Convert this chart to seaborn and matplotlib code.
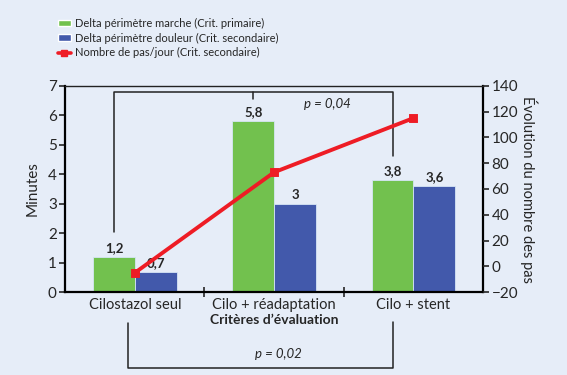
import numpy as np
import pandas as pd
import matplotlib
matplotlib.use('Agg')
import matplotlib.pyplot as plt
import seaborn as sns
from matplotlib.patches import Patch
from matplotlib.lines import Line2D

# data
categories = ['Cilostazol seul', 'Cilo + réadaptation', 'Cilo + stent']
marche = [1.2, 5.8, 3.8]
douleur = [0.7, 3.0, 3.6]
pas_jour = [-5, 73, 115]
marche_lbl = ['1,2', '5,8', '3,8']
douleur_lbl = ['0,7', '3', '3,6']

series_names = ['Delta périmètre marche (Crit. primaire)',
                'Delta périmètre douleur (Crit. secondaire)',
                'Nombre de pas/jour (Crit. secondaire)']

bg = '#e6edf8'
green = '#72c14e'
blue = '#4259ab'
red = '#ee1c25'

sns.set_style('white')
plt.rcParams['font.family'] = ['Lato', 'DejaVu Sans']

df = pd.DataFrame({
    'cat': categories * 2,
    'val': marche + douleur,
    'serie': [series_names[0]] * 3 + [series_names[1]] * 3,
})
df_pas = pd.DataFrame({'cat': categories, 'pas': pas_jour})

fig = plt.figure(figsize=(5.67, 3.75), dpi=100, facecolor=bg)
ax = fig.add_axes([0.115, 0.221, 0.737, 0.550])
ax.set_facecolor(bg)

sns.barplot(data=df, x='cat', y='val', hue='serie', order=categories,
            palette=[green, blue], width=0.6, saturation=1,
            edgecolor='#d6e6f5', linewidth=0.6, ax=ax, legend=False)

# bar value labels
for cont, labels in zip(ax.containers, [marche_lbl, douleur_lbl]):
    ax.bar_label(cont, labels=labels, fontweight='bold', fontsize=9.5, padding=2)

ax.set_ylim(0, 7)
ax.set_yticks(range(0, 8))
ax.set_xlim(-0.5, 2.5)
ax.set_ylabel('Minutes', fontsize=11, labelpad=6)
ax.set_xlabel('Critères d’évaluation', fontsize=10, fontweight='bold', labelpad=2)
ax.set_xticks(np.arange(len(categories)))
ax.set_xticklabels(categories, fontsize=10.5)
ax.tick_params(axis='x', length=0, pad=4)
ax.tick_params(axis='y', labelsize=11, length=4, width=1.2, direction='out', left=True, pad=2)
# small separator ticks between groups
ax.set_xticks([0.5, 1.5], minor=True)
ax.tick_params(axis='x', which='minor', length=7, width=1.2, direction='inout', bottom=True)
for s in ['left', 'bottom', 'right']:
    ax.spines[s].set_linewidth(1.6)
    ax.spines[s].set_color('black')
ax.spines['top'].set_linewidth(1.0)
ax.spines['top'].set_color('#222222')

ax2 = ax.twinx()
sns.pointplot(data=df_pas, x='cat', y='pas', order=categories, color=red,
              markers='s', markersize=4.8, linewidth=2.8, ax=ax2)
ax2.set_xlim(-0.5, 2.5)
ax2.set_ylim(-20, 140)
ax2.set_yticks(range(-20, 141, 20))
ax2.set_ylabel('Évolution du nombre des pas', fontsize=10.5, rotation=-90, labelpad=14)
ax2.tick_params(axis='y', labelsize=11, length=4, width=1.2, direction='out', right=True, pad=2)
for s in ax2.spines.values():
    s.set_visible(False)

# significance brackets
off = 0.15  # green bar centre offset within group
xl, xm, xr = 0 - off, 1 - off, 2 - off
ax.plot([xl, xl, xr, xr], [2.05, 6.8, 6.8, 4.62], color='#222222', lw=1.1, zorder=5)
ax.plot([xm, xm], [6.8, 6.56], color='#222222', lw=1.1, zorder=5)
ax.text(1.38, 6.4, 'p = 0,04', style='italic', fontsize=9.5, ha='center', va='center')

ax.plot([xl + 0.1, xl + 0.1, 2 - off, 2 - off], [-1.05, -2.57, -2.57, -1.0],
        color='#222222', lw=1.1, clip_on=False)
ax.text(1.03, -2.1, 'p = 0,02', style='italic', fontsize=9.5, ha='center', va='center')

handles = [Patch(facecolor=green, label=series_names[0]),
           Patch(facecolor=blue, label=series_names[1]),
           Line2D([0], [0], color=red, lw=2.6, marker='s', markersize=4,
                  label=series_names[2])]
fig.legend(handles=handles, loc='upper left', bbox_to_anchor=(0.095, 0.965),
           frameon=False, fontsize=8, handlelength=1.1, handleheight=0.5,
           handletextpad=0.4, labelspacing=0.35, borderaxespad=0)

fig.savefig('out.png', dpi=100, facecolor=bg)
